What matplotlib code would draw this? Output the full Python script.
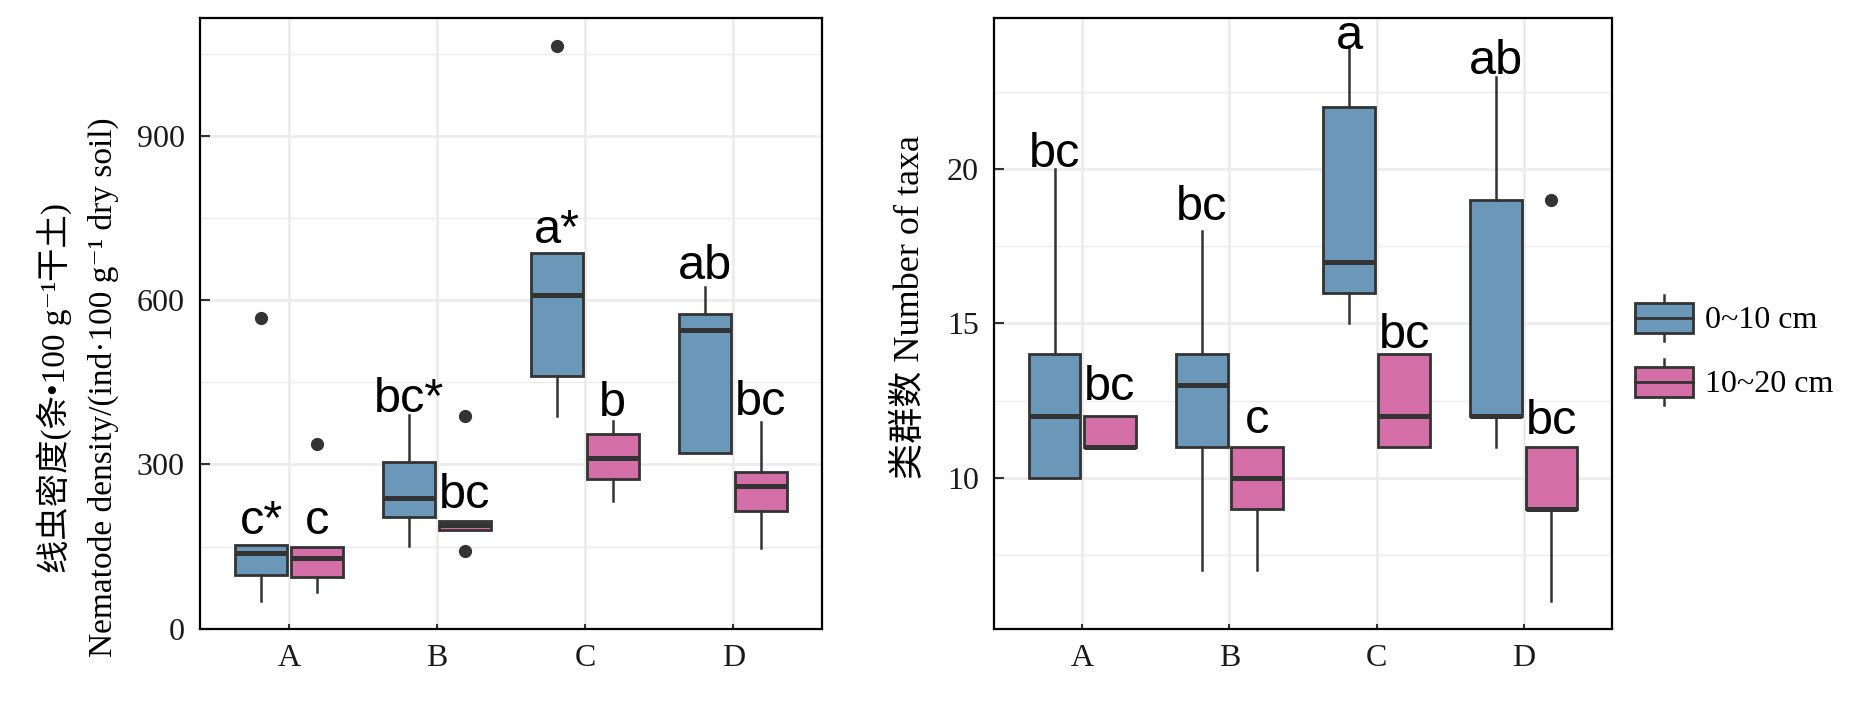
import matplotlib
matplotlib.use("Agg")
import matplotlib.pyplot as plt
from matplotlib.legend_handler import HandlerBase
from matplotlib.lines import Line2D
from matplotlib.patches import Patch, Rectangle

groups = ["A", "B", "C", "D"]
depths = ["0~10 cm", "10~20 cm"]

# nematode density, box stats per group (0~10 cm)
dens_top_whislo = [50, 151, 389, 321]
dens_top_q1 = [98, 204, 461, 321]
dens_top_med = [138, 238, 610, 545]
dens_top_q3 = [152, 304, 687, 575]
dens_top_whishi = [152, 391, 687, 624]
dens_top_fliers = [[568], [], [1065], []]
# nematode density (10~20 cm)
dens_sub_whislo = [67, 180, 234, 147]
dens_sub_q1 = [95, 180, 273, 214]
dens_sub_med = [129, 189, 311, 260]
dens_sub_q3 = [150, 197, 355, 286]
dens_sub_whishi = [150, 197, 379, 378]
dens_sub_fliers = [[338], [389, 141], [], []]

dens_top_letters = ["c*", "bc*", "a*", "ab"]
dens_sub_letters = ["c", "bc", "b", "bc"]
dens_top_label_y = [172, 395, 704, 639]
dens_sub_label_y = [172, 220, 388, 391]

# number of taxa (0~10 cm)
taxa_top_whislo = [10, 7, 15, 11]
taxa_top_q1 = [10, 11, 16, 12]
taxa_top_med = [12, 13, 17, 12]
taxa_top_q3 = [14, 14, 22, 19]
taxa_top_whishi = [20, 18, 24, 23]
taxa_top_fliers = [[], [], [], []]
# number of taxa (10~20 cm)
taxa_sub_whislo = [11, 7, 11, 6]
taxa_sub_q1 = [11, 9, 11, 9]
taxa_sub_med = [11, 10, 12, 9]
taxa_sub_q3 = [12, 11, 14, 11]
taxa_sub_whishi = [12, 11, 14, 11]
taxa_sub_fliers = [[], [], [], [19]]

taxa_top_letters = ["bc", "bc", "a", "ab"]
taxa_sub_letters = ["bc", "c", "bc", "bc"]
taxa_top_label_y = [20.07, 18.35, 23.9, 23.1]
taxa_sub_label_y = [12.51, 11.46, 14.19, 11.42]

BLUE = "#6B98B9"
PINK = "#D36FA6"
EDGE = "#333333"
GRID = "#EBEBEB"
SERIF = ["Liberation Serif", "Noto Sans CJK SC", "DejaVu Serif"]
SANS = ["Liberation Sans", "DejaVu Sans"]


def make_stats(whislo, q1, med, q3, whishi, fliers):
    return [dict(whislo=a, q1=b, med=c, q3=d, whishi=e, fliers=f)
            for a, b, c, d, e, f in zip(whislo, q1, med, q3, whishi, fliers)]


class BoxKeyHandler(HandlerBase):
    # legend key drawn like a small boxplot glyph
    def create_artists(self, legend, orig_handle, xdescent, ydescent,
                       width, height, fontsize, trans):
        x0, y0 = -xdescent, -ydescent
        bh = height * 0.66
        by = y0 + (height - bh) / 2
        xm = x0 + width / 2
        w1 = Line2D([xm, xm], [by + bh, y0 + height], color=EDGE, lw=1.8, transform=trans)
        w2 = Line2D([xm, xm], [y0, by], color=EDGE, lw=1.8, transform=trans)
        rect = Rectangle((x0, by), width, bh, facecolor=orig_handle.get_facecolor(),
                         edgecolor=EDGE, lw=2.0, transform=trans)
        med = Line2D([x0, x0 + width], [by + bh / 2] * 2, color=EDGE, lw=2.0, transform=trans)
        return [w1, w2, rect, med]


def draw_panel(ax, top_stats, sub_stats, top_letters, sub_letters, top_ly, sub_ly,
               yticks, yminor, ylabel, ylabel_size):
    ax.set_axisbelow(True)
    x = range(1, len(groups) + 1)
    off, w = 0.1875, 0.35
    for stats, color, sign in [(top_stats, BLUE, -1), (sub_stats, PINK, 1)]:
        ax.bxp(stats, positions=[i + sign * off for i in x], widths=w,
               patch_artist=True, showcaps=False, manage_ticks=False,
               boxprops=dict(facecolor=color, edgecolor=EDGE, lw=2.0),
               medianprops=dict(color=EDGE, lw=3.6),
               whiskerprops=dict(color=EDGE, lw=1.8),
               flierprops=dict(marker="o", markerfacecolor=EDGE,
                               markeredgecolor=EDGE, markersize=8.5))
    for letters, ly, sign in [(top_letters, top_ly, -1), (sub_letters, sub_ly, 1)]:
        for i, (t, yv) in zip(x, zip(letters, ly)):
            ax.text(i + sign * off, yv, t, ha="center", va="baseline",
                    fontsize=35, family=SANS, color="black", clip_on=False)

    vals = []
    for s in top_stats + sub_stats:
        vals += [s["whislo"], s["whishi"]] + list(s["fliers"])
    lo, hi = min(vals), max(vals)
    pad = (hi - lo) * 0.05
    ax.set_ylim(lo - pad, hi + pad)
    ax.set_xlim(0.4, len(groups) + 0.6)
    ax.set_xticks(list(x))
    ax.set_xticklabels(groups)
    ax.set_yticks(yticks)
    ax.set_yticks(yminor, minor=True)
    ax.grid(True, which="major", color=GRID, lw=1.8)
    ax.grid(True, which="minor", axis="y", color=GRID, lw=1.0)
    ax.tick_params(which="major", direction="in", width=1.5, color=EDGE,
                   labelsize=23, labelcolor="#1a1a1a")
    ax.tick_params(axis="x", length=3.5, pad=11)
    ax.tick_params(axis="y", length=7, pad=11)
    ax.tick_params(which="minor", length=0)
    for lab in ax.get_xticklabels() + ax.get_yticklabels():
        lab.set_family(SERIF)
    for sp in ax.spines.values():
        sp.set_color("black")
        sp.set_linewidth(1.6)
    ax.set_ylabel(ylabel, family=SERIF, fontsize=ylabel_size, linespacing=1.65)


fig = plt.figure(figsize=(18.66, 7.06), dpi=100)
ax1 = fig.add_axes([200 / 1866, 1 - 629 / 706, 622 / 1866, 611 / 706])
ax2 = fig.add_axes([994 / 1866, 1 - 629 / 706, 618 / 1866, 611 / 706])

draw_panel(ax1,
           make_stats(dens_top_whislo, dens_top_q1, dens_top_med, dens_top_q3,
                      dens_top_whishi, dens_top_fliers),
           make_stats(dens_sub_whislo, dens_sub_q1, dens_sub_med, dens_sub_q3,
                      dens_sub_whishi, dens_sub_fliers),
           dens_top_letters, dens_sub_letters, dens_top_label_y, dens_sub_label_y,
           [0, 300, 600, 900], [150, 450, 750, 1050],
           "线虫密度(条•100 g\u207b\u00b9干土)\n"
           "Nematode density/(ind·100 g\u207b\u00b9 dry soil)", 24)
ax1.yaxis.set_label_coords(-0.13, 0.395)

draw_panel(ax2,
           make_stats(taxa_top_whislo, taxa_top_q1, taxa_top_med, taxa_top_q3,
                      taxa_top_whishi, taxa_top_fliers),
           make_stats(taxa_sub_whislo, taxa_sub_q1, taxa_sub_med, taxa_sub_q3,
                      taxa_sub_whishi, taxa_sub_fliers),
           taxa_top_letters, taxa_sub_letters, taxa_top_label_y, taxa_sub_label_y,
           [10, 15, 20], [7.5, 12.5, 17.5, 22.5],
           "类群数 Number of taxa", 26)
ax2.yaxis.set_label_coords(-0.108, 0.527)

handles = [Patch(facecolor=BLUE), Patch(facecolor=PINK)]
leg = fig.legend(handles, depths, loc="center left",
                 bbox_to_anchor=(1635 / 1866, 1 - 350 / 706),
                 handler_map={Patch: BoxKeyHandler()}, frameon=False,
                 prop=dict(family=SERIF, size=23), handlelength=1.8,
                 handleheight=1.85, labelspacing=0.55, handletextpad=0.4,
                 borderpad=0, borderaxespad=0)

fig.savefig("out.png", dpi=100)
